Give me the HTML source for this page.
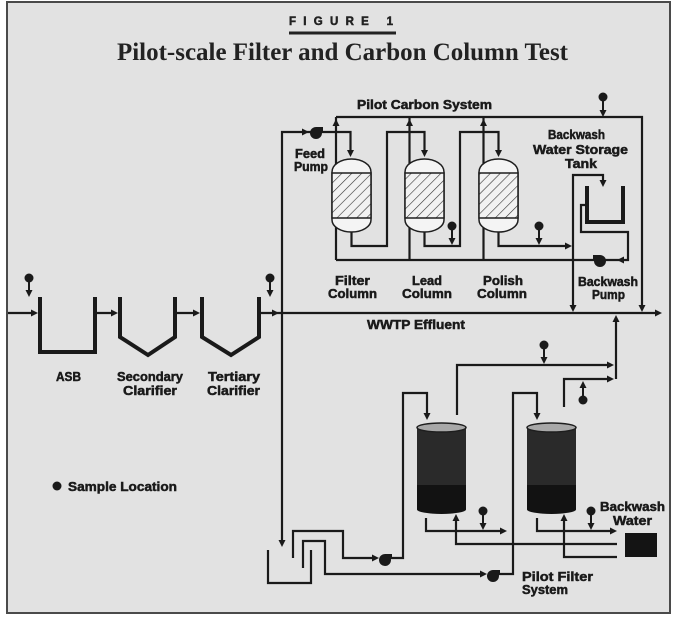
<!DOCTYPE html>
<html>
<head>
<meta charset="utf-8">
<style>
  html,body{margin:0;padding:0;background:#ffffff;}
  svg{display:block;}
  .lbl{font-family:"Liberation Sans",sans-serif;font-weight:bold;font-size:13px;fill:#1a1a1a;stroke:#1a1a1a;stroke-width:0.5px;}
</style>
</head>
<body>
<svg width="677" height="617" viewBox="0 0 677 617" xmlns="http://www.w3.org/2000/svg">
  <defs>
    <pattern id="hatch" width="7" height="7" patternUnits="userSpaceOnUse" patternTransform="rotate(45)">
      <rect width="7" height="7" fill="#f2f2f2"/>
      <line x1="0" y1="0" x2="0" y2="7" stroke="#333" stroke-width="1.2"/>
    </pattern>
  </defs>

  <!-- frame -->
  <rect x="7" y="2" width="663" height="611" fill="#e2e2e2" stroke="#4a4a4a" stroke-width="2"/>

  <!-- titles -->
  <text x="289" y="25" font-family="Liberation Sans, sans-serif" font-weight="bold" font-size="11.5" fill="#222" stroke="#222" stroke-width="0.5" textLength="104" lengthAdjust="spacing">FIGURE 1</text>
  <rect x="289" y="31.5" width="107" height="3" fill="#222"/>
  <text x="117" y="60" font-family="Liberation Serif, serif" font-weight="bold" font-size="25" fill="#222" textLength="451" lengthAdjust="spacingAndGlyphs">Pilot-scale Filter and Carbon Column Test</text>

  <g fill="none" stroke="#1a1a1a" stroke-width="2.2" stroke-linejoin="miter">
    <path d="M336 117 H642 V308"/>
    <path d="M336 260 V117"/>
    <path d="M409.5 260 V117"/>
    <path d="M483.5 260 V117"/>
    <path d="M336 260 H598"/>
    <path d="M604 260 H628 V232 H581 V205 H588"/>
    <path d="M282 542 V132 H350.5 V152"/>
    <path d="M351.5 232 V246 H387 V132 H424.5 V152"/>
    <path d="M424.5 232 V246 H460 V132 H498.5 V152"/>
    <path d="M498.5 232 V246 H567"/>
    <path d="M573 308 V175 H603 V182"/>

    <path d="M8 313 H33"/>
    <path d="M95 313 H113"/>
    <path d="M175 313 H195"/>
    <path d="M259 313 H656"/>

    <path d="M268 550 V583 H311 V550"/>
    <path d="M293 558 V531 H343 V558 H374"/>
    <path d="M390 558 H403 V393 H427 V415"/>
    <path d="M303 568 V541 H325 V574 H482"/>
    <path d="M498 574 H513 V393 H537 V415"/>

    <path d="M457 415 V365 H609"/>
    <path d="M564 407 V379 H609"/>
    <path d="M616 379 V320"/>
    <path d="M426 518 V531 H502"/>
    <path d="M617 544 H456 V519"/>
    <path d="M537 518 V531 H612"/>
    <path d="M617 557 H564 V519"/>
  </g>

  <g fill="none" stroke="#1a1a1a" stroke-width="4" stroke-linejoin="miter">
    <path d="M40 297 V352 H95 V297"/>
    <path d="M120 297 V337 L148 355 L175 337 V297"/>
    <path d="M202 297 V337 L231 355 L259 337 V297"/>
    <path d="M587 186 V222 H623 V186"/>
  </g>

  <g stroke="#1e1e1e" stroke-width="1.5">
    <path d="M332 172 A19.5 13 0 0 1 371 172 V220 A19.5 12 0 0 1 332 220 Z" fill="#f4f4f4"/>
    <rect x="332" y="173" width="39" height="45" fill="url(#hatch)"/>
    <path d="M405 172 A19.5 13 0 0 1 444 172 V220 A19.5 12 0 0 1 405 220 Z" fill="#f4f4f4"/>
    <rect x="405" y="173" width="39" height="45" fill="url(#hatch)"/>
    <path d="M479 172 A19.5 13 0 0 1 518 172 V220 A19.5 12 0 0 1 479 220 Z" fill="#f4f4f4"/>
    <rect x="479" y="173" width="39" height="45" fill="url(#hatch)"/>
  </g>

  <g>
    <rect x="417" y="427.5" width="49" height="82" fill="#2a2a2a"/>
    <rect x="417" y="485" width="49" height="24.5" fill="#121212"/>
    <ellipse cx="441.5" cy="509.5" rx="24.5" ry="4.5" fill="#121212"/>
    <ellipse cx="441.5" cy="427.5" rx="24.5" ry="4.5" fill="#a8a8a8" stroke="#1e1e1e" stroke-width="1.5"/>
    <rect x="527" y="427.5" width="49" height="82" fill="#2a2a2a"/>
    <rect x="527" y="485" width="49" height="24.5" fill="#121212"/>
    <ellipse cx="551.5" cy="509.5" rx="24.5" ry="4.5" fill="#121212"/>
    <ellipse cx="551.5" cy="427.5" rx="24.5" ry="4.5" fill="#a8a8a8" stroke="#1e1e1e" stroke-width="1.5"/>
  </g>
  <rect x="625" y="533" width="32" height="24" fill="#141414"/>

  <g fill="#1a1a1a">
    <polygon points="332.5,126 339.5,126 336,119"/>
    <polygon points="406,126 413,126 409.5,119"/>
    <polygon points="480,126 487,126 483.5,119"/>
    <polygon points="347,150 354,150 350.5,157"/>
    <polygon points="421,150 428,150 424.5,157"/>
    <polygon points="495,150 502,150 498.5,157"/>
    <polygon points="302,128.5 302,135.5 309,132"/>
    <polygon points="565,242.5 565,249.5 572,246"/>
    <polygon points="599.5,180 606.5,180 603,187"/>
    <polygon points="624,256.5 624,263.5 617,260"/>
    <polygon points="569.5,305 576.5,305 573,312"/>
    <polygon points="638.5,305 645.5,305 642,312"/>
    <polygon points="31,309.5 31,316.5 38,313"/>
    <polygon points="111,309.5 111,316.5 118,313"/>
    <polygon points="193,309.5 193,316.5 200,313"/>
    <polygon points="272,309.5 272,316.5 279,313"/>
    <polygon points="655,309.5 655,316.5 662,313"/>
    <polygon points="278.5,540 285.5,540 282,547"/>
    <polygon points="372,554.5 372,561.5 379,558"/>
    <polygon points="480,570.5 480,577.5 487,574"/>
    <polygon points="423.5,413 430.5,413 427,420"/>
    <polygon points="533.5,413 540.5,413 537,420"/>
    <polygon points="607,361.5 607,368.5 614,365"/>
    <polygon points="607,375.5 607,382.5 614,379"/>
    <polygon points="612.5,322 619.5,322 616,315"/>
    <polygon points="500,527.5 500,534.5 507,531"/>
    <polygon points="610,527.5 610,534.5 617,531"/>
    <polygon points="452.5,521 459.5,521 456,514"/>
    <polygon points="560.5,521 567.5,521 564,514"/>
  </g>

  <g fill="#1a1a1a">
    <circle cx="316" cy="133" r="6"/><rect x="316" y="127" width="7" height="4"/>
    <circle cx="600" cy="261" r="6"/><rect x="593" y="255" width="7" height="4"/>
    <circle cx="385" cy="560" r="6"/><rect x="385" y="554" width="7" height="4"/>
    <circle cx="493" cy="576" r="6"/><rect x="493" y="570" width="7" height="4"/>
  </g>

  <g fill="#1a1a1a" stroke="#1a1a1a">
    <circle cx="603" cy="97" r="4.5" stroke="none"/><line x1="603" y1="100" x2="603" y2="111" stroke-width="2"/><polygon points="599.5,110 606.5,110 603,117" stroke="none"/>
    <circle cx="452" cy="226" r="4.5" stroke="none"/><line x1="452" y1="229" x2="452" y2="239" stroke-width="2"/><polygon points="448.5,238 455.5,238 452,245" stroke="none"/>
    <circle cx="539" cy="226" r="4.5" stroke="none"/><line x1="539" y1="229" x2="539" y2="239" stroke-width="2"/><polygon points="535.5,238 542.5,238 539,245" stroke="none"/>
    <circle cx="29" cy="278" r="4.5" stroke="none"/><line x1="29" y1="281" x2="29" y2="291" stroke-width="2"/><polygon points="25.5,290 32.5,290 29,297" stroke="none"/>
    <circle cx="270" cy="278" r="4.5" stroke="none"/><line x1="270" y1="281" x2="270" y2="291" stroke-width="2"/><polygon points="266.5,290 273.5,290 270,297" stroke="none"/>
    <circle cx="544" cy="345" r="4.5" stroke="none"/><line x1="544" y1="348" x2="544" y2="358" stroke-width="2"/><polygon points="540.5,357 547.5,357 544,364" stroke="none"/>
    <circle cx="483" cy="511" r="4.5" stroke="none"/><line x1="483" y1="514" x2="483" y2="524" stroke-width="2"/><polygon points="479.5,523 486.5,523 483,530" stroke="none"/>
    <circle cx="591" cy="511" r="4.5" stroke="none"/><line x1="591" y1="514" x2="591" y2="524" stroke-width="2"/><polygon points="587.5,523 594.5,523 591,530" stroke="none"/>
    <circle cx="583" cy="400" r="4.5" stroke="none"/><line x1="583" y1="397" x2="583" y2="387" stroke-width="2"/><polygon points="579.5,388 586.5,388 583,381" stroke="none"/>
    <circle cx="57" cy="486" r="4.5" stroke="none"/>
  </g>

  <g class="lbl">
    <text x="357" y="109" textLength="135" lengthAdjust="spacingAndGlyphs">Pilot Carbon System</text>
    <text x="295" y="158" textLength="30" lengthAdjust="spacingAndGlyphs">Feed</text>
    <text x="294" y="171" textLength="34" lengthAdjust="spacingAndGlyphs">Pump</text>
    <text x="548" y="139" textLength="57" lengthAdjust="spacingAndGlyphs">Backwash</text>
    <text x="533" y="154" textLength="95" lengthAdjust="spacingAndGlyphs">Water Storage</text>
    <text x="565" y="168" textLength="32" lengthAdjust="spacingAndGlyphs">Tank</text>
    <text x="335" y="285" textLength="35" lengthAdjust="spacingAndGlyphs">Filter</text>
    <text x="328" y="298" textLength="49" lengthAdjust="spacingAndGlyphs">Column</text>
    <text x="412" y="285" textLength="30" lengthAdjust="spacingAndGlyphs">Lead</text>
    <text x="402" y="298" textLength="50" lengthAdjust="spacingAndGlyphs">Column</text>
    <text x="483" y="285" textLength="40" lengthAdjust="spacingAndGlyphs">Polish</text>
    <text x="477" y="298" textLength="50" lengthAdjust="spacingAndGlyphs">Column</text>
    <text x="578" y="286" textLength="60" lengthAdjust="spacingAndGlyphs">Backwash</text>
    <text x="592" y="299" textLength="33" lengthAdjust="spacingAndGlyphs">Pump</text>
    <text x="367" y="329" textLength="98" lengthAdjust="spacingAndGlyphs">WWTP Effluent</text>
    <text x="56" y="381" textLength="25" lengthAdjust="spacingAndGlyphs">ASB</text>
    <text x="117" y="381" textLength="66" lengthAdjust="spacingAndGlyphs">Secondary</text>
    <text x="123" y="395" textLength="54" lengthAdjust="spacingAndGlyphs">Clarifier</text>
    <text x="208" y="381" textLength="52" lengthAdjust="spacingAndGlyphs">Tertiary</text>
    <text x="207" y="395" textLength="53" lengthAdjust="spacingAndGlyphs">Clarifier</text>
    <text x="68" y="491" textLength="109" lengthAdjust="spacingAndGlyphs">Sample Location</text>
    <text x="600" y="511" textLength="65" lengthAdjust="spacingAndGlyphs">Backwash</text>
    <text x="613" y="525" textLength="39" lengthAdjust="spacingAndGlyphs">Water</text>
    <text x="522" y="581" textLength="71" lengthAdjust="spacingAndGlyphs">Pilot Filter</text>
    <text x="522" y="594" textLength="46" lengthAdjust="spacingAndGlyphs">System</text>
  </g>
</svg>
</body>
</html>
